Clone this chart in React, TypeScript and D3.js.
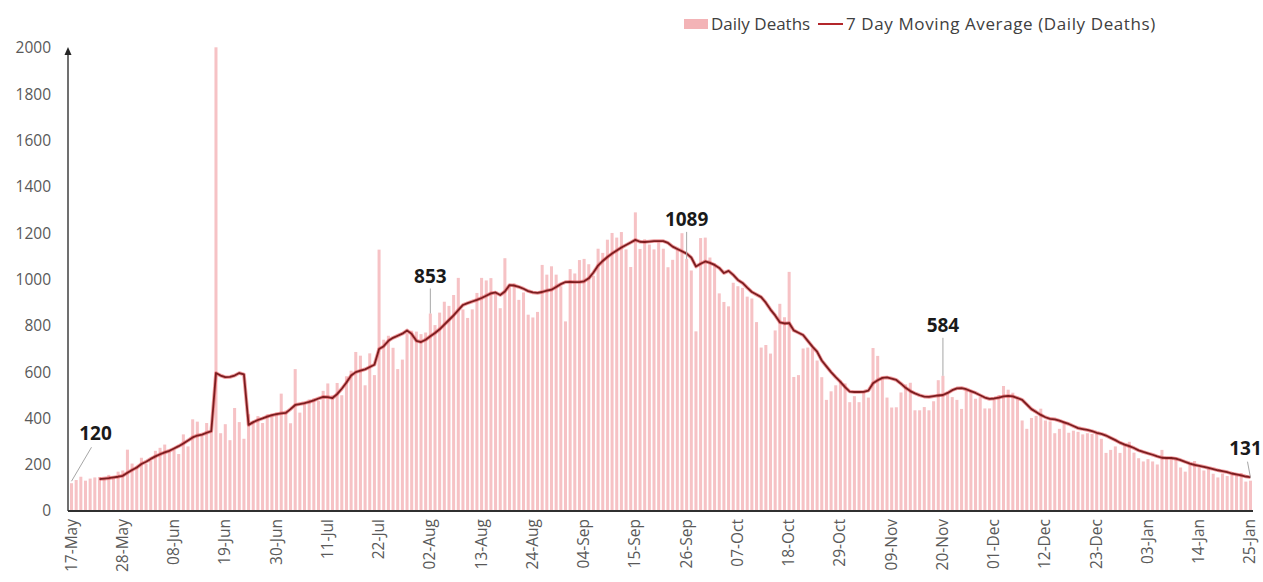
import React from 'react';
import * as d3 from 'd3';

// daily deaths, 17-May to 25-Jan
const deathsMay = [120, 134, 148, 131, 140, 145, 147, 142, 156, 146, 170, 175, 265, 205, 193];
const deathsJun = [230, 204, 217, 260, 273, 287, 262, 266, 246, 331, 279, 396, 386, 325, 380, 343, 2003, 336, 375, 306, 445, 384, 312, 418, 384, 410, 380, 417, 418, 425];
const deathsJul = [507, 434, 379, 613, 425, 467, 482, 487, 475, 519, 551, 500, 553, 500, 582, 606, 687, 671, 543, 681, 587, 1129, 740, 757, 705, 613, 654, 768, 779, 775, 764];
const deathsAug = [771, 853, 803, 857, 904, 886, 933, 1007, 871, 834, 871, 942, 1007, 996, 1006, 941, 876, 1092, 977, 983, 912, 944, 848, 836, 860, 1063, 1021, 1057, 1021, 971, 819];
const deathsSep = [1045, 1026, 1084, 1089, 1066, 1016, 1133, 1115, 1172, 1201, 1181, 1205, 1130, 1054, 1290, 1132, 1174, 1151, 1130, 1160, 1133, 1053, 1085, 1129, 1200, 1089, 1039, 776, 1179, 1181];
const deathsOct = [1095, 1069, 940, 903, 884, 986, 971, 964, 926, 918, 816, 706, 717, 680, 780, 895, 837, 1033, 579, 587, 702, 706, 703, 650, 578, 480, 517, 543, 563, 551, 470];
const deathsNov = [496, 470, 514, 490, 704, 670, 577, 490, 447, 448, 512, 547, 554, 435, 435, 449, 435, 474, 565, 584, 511, 492, 480, 441, 524, 518, 485, 492, 443, 443];
const deathsDec = [482, 501, 540, 524, 511, 482, 391, 355, 402, 411, 442, 391, 387, 336, 355, 387, 338, 347, 342, 331, 336, 333, 336, 312, 251, 264, 279, 251, 290, 299, 252];
const deathsJan = [228, 214, 224, 214, 201, 264, 234, 228, 232, 188, 170, 201, 216, 188, 175, 181, 161, 145, 162, 151, 163, 158, 163, 127, 131];

// 7 day moving average, starts 23-May
const avgMay = [138, 140, 142, 145, 148, 152, 165, 177, 188];
const avgJun = [203, 213, 225, 236, 245, 253, 260, 270, 280, 292, 305, 318, 326, 330, 338, 345, 596, 585, 578, 579, 585, 596, 590, 372, 384, 393, 400, 408, 414, 418];
const avgJul = [422, 424, 440, 458, 462, 466, 471, 478, 486, 493, 492, 488, 505, 528, 555, 585, 600, 606, 612, 622, 632, 700, 712, 735, 748, 757, 766, 780, 765, 735, 730];
const avgAug = [740, 755, 769, 785, 805, 825, 845, 868, 890, 898, 905, 912, 920, 930, 940, 944, 933, 948, 976, 974, 968, 960, 950, 944, 942, 946, 952, 956, 968, 980, 989];
const avgSep = [990, 989, 989, 992, 1005, 1030, 1060, 1080, 1097, 1112, 1125, 1138, 1149, 1160, 1171, 1163, 1162, 1164, 1166, 1166, 1166, 1158, 1142, 1132, 1122, 1112, 1095, 1056, 1068, 1078];
const avgOct = [1072, 1063, 1050, 1028, 1037, 1020, 998, 985, 965, 946, 935, 924, 900, 870, 845, 815, 810, 812, 780, 770, 760, 735, 710, 688, 650, 625, 600, 578, 558, 535, 516];
const avgNov = [514, 514, 515, 520, 552, 565, 575, 577, 572, 566, 550, 532, 518, 508, 500, 494, 493, 496, 499, 501, 510, 522, 530, 531, 526, 518, 510, 500, 490, 484];
const avgDec = [486, 490, 495, 497, 495, 488, 480, 460, 440, 428, 415, 405, 398, 396, 390, 383, 376, 367, 358, 354, 350, 345, 338, 333, 326, 316, 306, 295, 287, 280, 272];
const avgJan = [262, 255, 249, 243, 236, 230, 229, 229, 226, 220, 212, 205, 199, 195, 191, 186, 181, 176, 172, 168, 162, 158, 154, 149, 146];

const tickLabels = ['17-May', '28-May', '08-Jun', '19-Jun', '30-Jun', '11-Jul', '22-Jul', '02-Aug', '13-Aug', '24-Aug', '04-Sep', '15-Sep', '26-Sep', '07-Oct', '18-Oct', '29-Oct', '09-Nov', '20-Nov', '01-Dec', '12-Dec', '23-Dec', '03-Jan', '14-Jan', '25-Jan'];
const tickStep = 11;
const yTicks = [0, 200, 400, 600, 800, 1000, 1200, 1400, 1600, 1800, 2000];
const calloutDays = [0, 77, 132, 187, 253];

const dailyDeaths = [...deathsMay, ...deathsJun, ...deathsJul, ...deathsAug, ...deathsSep, ...deathsOct, ...deathsNov, ...deathsDec, ...deathsJan];
const movingAvg = [...avgMay, ...avgJun, ...avgJul, ...avgAug, ...avgSep, ...avgOct, ...avgNov, ...avgDec, ...avgJan];
const avgStart = dailyDeaths.length - movingAvg.length;

const FONT = "'Open Sans', sans-serif";

export default function App() {
  const width = 1263, height = 582;
  const x = d3.scaleBand<number>()
    .domain(d3.range(dailyDeaths.length))
    .range([70, 1252])
    .paddingInner(0.35);
  const cx = (i: number) => (x(i) ?? 0) + x.bandwidth() / 2;
  const y = d3.scaleLinear().domain([0, 2000]).range([511, 48]);

  const line = d3.line<number>()
    .x((_, k) => cx(k + avgStart))
    .y((d) => y(d));
  const avgPath = line(movingAvg) || '';

  // label gap above the bar top for each callout
  const gaps: Record<number, number> = { 0: 43, 77: 31, 132: 33, 187: 44, 253: 26 };

  return (
    <svg width={width} height={height} style={{ position: 'absolute', left: 0, top: 0, background: '#fff' }} fontFamily={FONT}>
      {/* legend */}
      <rect x={684} y={19} width={24} height={10} fill="#f3b3b6" />
      <text x={711} y={30} fontSize={17} fill="#404040">Daily Deaths</text>
      <line x1={818} x2={843} y1={24} y2={24} stroke="#b3262b" strokeWidth={2} />
      <text x={846} y={30} fontSize={17} fill="#404040" letterSpacing={0.6}>7 Day Moving Average (Daily Deaths)</text>

      {/* bars */}
      {dailyDeaths.map((v, i) => (
        <rect key={i} x={x(i)} y={y(v)} width={x.bandwidth()} height={y(0) - y(v)} fill="#f6c2c5" />
      ))}

      {/* moving average */}
      <path d={avgPath} fill="none" stroke="#e0474c" strokeWidth={3.6} strokeOpacity={0.55} strokeLinejoin="round" />
      <path d={avgPath} fill="none" stroke="#7c1d1f" strokeWidth={1.8} strokeLinejoin="round" />

      {/* axes */}
      <line x1={68} x2={68} y1={y(0)} y2={52} stroke="#404040" strokeWidth={1.5} />
      <path d={`M68,${y(2000) - 1} l-3.5,8 h7 z`} fill="#262626" />
      <line x1={68} x2={1253} y1={y(0)} y2={y(0)} stroke="#303030" strokeWidth={2} />

      {yTicks.map((t) => (
        <text key={t} x={51} y={y(t)} dy="0.35em" textAnchor="end" fontSize={15.5} fill="#595959">{t}</text>
      ))}

      {tickLabels.map((lab, k) => {
        const px = cx(k * tickStep);
        return (
          <text key={lab} transform={`translate(${px + 5},519) rotate(-90)`} textAnchor="end" fontSize={15.5} fill="#595959">{lab}</text>
        );
      })}

      {/* callouts */}
      {calloutDays.map((i) => {
        const v = dailyDeaths[i];
        const px = cx(i);
        const py = y(v);
        const base = py - gaps[i];
        if (i === 0) {
          return (
            <g key={i}>
              <line x1={px + 20} y1={base + 7} x2={px} y2={py - 2} stroke="#a6a6a6" strokeWidth={1} />
              <text x={px + 24} y={base} textAnchor="middle" fontSize={19} fontWeight="bold" fill="#1a1a1a">{v}</text>
            </g>
          );
        }
        if (i === dailyDeaths.length - 1) {
          return (
            <g key={i}>
              <line x1={px - 3} y1={base + 7} x2={px} y2={py - 3} stroke="#a6a6a6" strokeWidth={1} />
              <text x={px - 5} y={base} textAnchor="middle" fontSize={19} fontWeight="bold" fill="#1a1a1a">{v}</text>
            </g>
          );
        }
        return (
          <g key={i}>
            <line x1={px} y1={base + 6} x2={px} y2={py} stroke="#a6a6a6" strokeWidth={1} />
            <text x={px} y={base} textAnchor="middle" fontSize={19} fontWeight="bold" fill="#1a1a1a">{v}</text>
          </g>
        );
      })}
    </svg>
  );
}
